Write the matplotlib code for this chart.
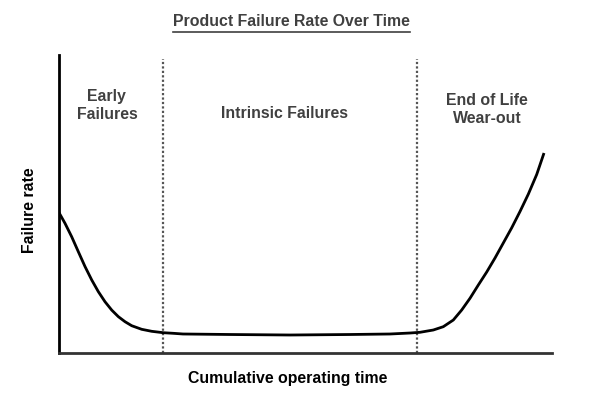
import matplotlib
matplotlib.use("Agg")
import matplotlib.pyplot as plt

plt.rcParams['font.family'] = ['Liberation Sans', 'DejaVu Sans']

# Bathtub curve (time 0-100, failure rate 0-100)
time = [0.1, 1.32, 2.67, 4.01, 5.37, 6.73, 8.06, 9.42, 10.78, 12.12, 13.48, 14.83,
        16.86, 18.89, 21.24, 23.26, 25.23, 34.75, 46.91, 59.07, 67.17, 71.23,
        73.25, 75.95, 77.97, 80.0, 81.7, 83.38, 85.07, 86.77, 88.45, 90.13,
        91.83, 93.52, 95.2, 96.9, 98.38]
rate = [47.1, 43.5, 39.0, 34.0, 29.0, 24.5, 20.6, 17.2, 14.4, 12.2, 10.5, 9.16,
        7.95, 7.28, 6.81, 6.61, 6.38, 6.21, 6.04, 6.21, 6.38, 6.71,
        6.95, 7.72, 8.83, 11.07, 14.43, 18.36, 22.82, 27.18, 31.88, 36.91,
        42.0, 47.5, 53.3, 59.9, 67.11]

phase_bounds = [21.1, 72.6]
phase_labels = ["Early\nFailures", "Intrinsic Failures", "End of Life\nWear-out"]
phase_label_x = [9.8, 45.7, 86.9]
phase_label_y = [83.0, 80.2, 81.6]

title = "Product Failure Rate Over Time"
xlabel = "Cumulative operating time"
ylabel = "Failure rate"

fig = plt.figure(figsize=(5.9, 3.95), dpi=100)
ax = fig.add_axes([0.0992, 0.1063, 0.8364, 0.7545])
ax.set_xlim(0, 100)
ax.set_ylim(0, 100)

ax.plot(time, rate, color='black', lw=2.0, solid_joinstyle='round',
        solid_capstyle='butt', zorder=3)

for b in phase_bounds:
    ax.plot([b, b], [0, 98.7], color='#555555', lw=1.6, linestyle=(0, (1, 1)), zorder=2)

for lab, lx, ly in zip(phase_labels, phase_label_x, phase_label_y):
    ax.text(lx, ly, lab, ha='center', va='center', fontsize=11.4, fontweight='bold',
            color='#404040', linespacing=1.25)

for s in ['top', 'right']:
    ax.spines[s].set_visible(False)
ax.spines['left'].set_linewidth(2.0)
ax.spines['left'].set_color('black')
ax.spines['bottom'].set_linewidth(2.0)
ax.spines['bottom'].set_color('#333333')
ax.set_xticks([])
ax.set_yticks([])

fig.text(291.5/590, 1 - 21/395, title, ha='center', va='center', fontsize=11.4,
         fontweight='bold', color='#404040')
# underline
fig.add_artist(plt.Line2D([173/590, 410/590], [1 - 31.5/395, 1 - 31.5/395],
                          color='#404040', lw=1.2))

fig.text(288/590, 1 - 379/395, xlabel, ha='center', va='center', fontsize=11.4,
         fontweight='bold', color='black')
fig.text(30/590, 1 - 210/395, ylabel, ha='center', va='center', fontsize=11.4,
         fontweight='bold', color='black', rotation=90)

fig.savefig("out.png", dpi=100)
